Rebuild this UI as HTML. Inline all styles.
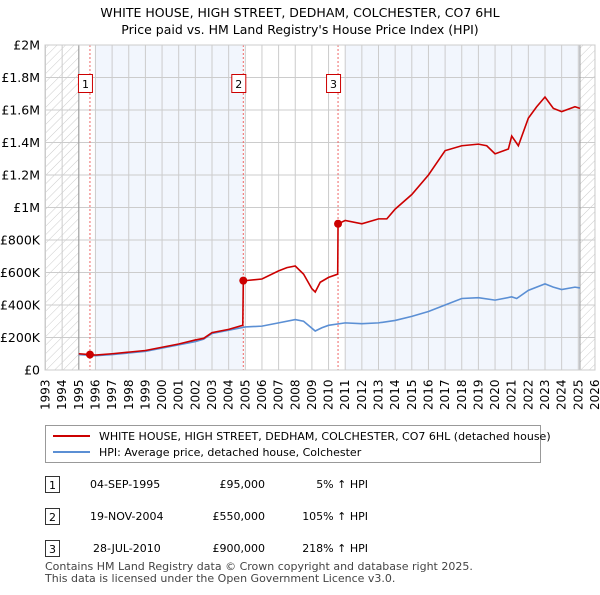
<!DOCTYPE html>
<html><head><meta charset="utf-8"><style>
body{margin:0;background:#fff;font-family:"Liberation Sans","DejaVu Sans",sans-serif;}
svg text{font-family:"DejaVu Sans","Liberation Sans",sans-serif;}
</style></head><body>
<svg id="c" width="600" height="590" xmlns="http://www.w3.org/2000/svg">
<defs><pattern id="hatch" width="6" height="6" patternUnits="userSpaceOnUse" patternTransform="rotate(45)"><line x1="0" y1="0" x2="0" y2="6" stroke="#ccc" stroke-width="1"/></pattern></defs>
<text x="300" y="17" text-anchor="middle" font-size="12.5">WHITE HOUSE, HIGH STREET, DEDHAM, COLCHESTER, CO7 6HL</text>
<text x="300" y="34" text-anchor="middle" font-size="12.5">Price paid vs. HM Land Registry's House Price Index (HPI)</text>
<g id="plot"></g>
<g>
<rect x="45.5" y="425.5" width="495" height="37" fill="#fff" stroke="#999"/>
<line x1="53" y1="436" x2="90" y2="436" stroke="#cc0000" stroke-width="2"/>
<text x="99" y="440" font-size="11">WHITE HOUSE, HIGH STREET, DEDHAM, COLCHESTER, CO7 6HL (detached house)</text>
<line x1="53" y1="452" x2="90" y2="452" stroke="#5b8fd4" stroke-width="2"/>
<text x="99" y="456" font-size="11">HPI: Average price, detached house, Colchester</text>
</g>
<g font-size="11">
<rect x="45.5" y="476.5" width="14" height="16" fill="#fff" stroke="#333"/><text x="52.5" y="489" text-anchor="middle">1</text>
<text x="90" y="488">04-SEP-1995</text><text x="265" y="488" text-anchor="end">£95,000</text><text x="368" y="488" text-anchor="end">5% ↑ HPI</text>
<rect x="45.5" y="508.5" width="14" height="16" fill="#fff" stroke="#333"/><text x="52.5" y="521" text-anchor="middle">2</text>
<text x="90" y="520">19-NOV-2004</text><text x="265" y="520" text-anchor="end">£550,000</text><text x="368" y="520" text-anchor="end">105% ↑ HPI</text>
<rect x="45.5" y="540.5" width="14" height="16" fill="#fff" stroke="#333"/><text x="52.5" y="553" text-anchor="middle">3</text>
<text x="93" y="552">28-JUL-2010</text><text x="265" y="552" text-anchor="end">£900,000</text><text x="368" y="552" text-anchor="end">218% ↑ HPI</text>
</g>
<text x="45" y="570" font-size="11" fill="#444">Contains HM Land Registry data © Crown copyright and database right 2025.</text>
<text x="45" y="582" font-size="11" fill="#444">This data is licensed under the Open Government Licence v3.0.</text>
</svg>
<script>
const yTicks=[0,200000,400000,600000,800000,1000000,1200000,1400000,1600000,1800000,2000000];
const yLabels=["£0","£200K","£400K","£600K","£800K","£1M","£1.2M","£1.4M","£1.6M","£1.8M","£2M"];
const years=[1993,1994,1995,1996,1997,1998,1999,2000,2001,2002,2003,2004,2005,2006,2007,2008,2009,2010,2011,2012,2013,2014,2015,2016,2017,2018,2019,2020,2021,2022,2023,2024,2025,2026];
const hpiT=[1995,1996,1997,1998,1999,2000,2001,2002,2002.5,2003,2004,2005,2006,2007,2008,2008.5,2009.2,2009.6,2010,2011,2012,2013,2014,2015,2016,2017,2018,2019,2020,2021,2021.3,2022,2023,2023.5,2024,2024.8,2025.1];
const hpiV=[95000,88000,95000,105000,115000,135000,155000,175000,190000,225000,245000,265000,270000,290000,310000,300000,240000,260000,275000,290000,285000,290000,305000,330000,360000,400000,440000,445000,430000,450000,440000,490000,530000,510000,495000,510000,505000];
const redT=[1995,1995.67,1996,1997,1998,1999,2000,2001,2002,2002.5,2003,2004,2004.85,2004.88,2005,2006,2007,2007.5,2008,2008.5,2009,2009.2,2009.5,2010,2010.55,2010.57,2011,2012,2013,2013.5,2014,2015,2016,2017,2018,2019,2019.5,2020,2020.8,2021,2021.4,2022,2022.5,2023,2023.5,2024,2024.8,2025.1];
const redV=[100000,95000,92000,100000,110000,120000,140000,160000,185000,195000,230000,250000,275000,550000,550000,560000,610000,630000,640000,590000,500000,480000,540000,570000,590000,900000,920000,900000,930000,930000,990000,1080000,1200000,1350000,1380000,1390000,1380000,1330000,1360000,1440000,1380000,1550000,1620000,1680000,1610000,1590000,1620000,1610000];
const saleT=[1995.67,2004.88,2010.57];
const saleV=[95000,550000,900000];
const saleLbl=["1","2","3"];
const X=t=>45.5+(t-1993)*16.65, Y=v=>370-v/2000000*325;
const NS="http://www.w3.org/2000/svg", g=document.getElementById('plot');
function mk(tag,a,p){const e=document.createElementNS(NS,tag);for(const k in a)e.setAttribute(k,a[k]);(p||g).appendChild(e);return e;}
let e;
e=mk('rect',{x:X(1996),y:45,width:X(saleT[1])-X(1996),height:325,fill:'#f2f6fd'});


e=mk('rect',{x:X(2011),y:45,width:X(2025.1)-X(2011),height:325,fill:'#f2f6fd'});


e=mk('rect',{x:45,y:45,width:X(1995)-45,height:325,fill:'url(#hatch)'});


e=mk('rect',{x:X(2025.1),y:45,width:595-X(2025.1),height:325,fill:'url(#hatch)'});


years.forEach(y=>{
 e=mk('line',{x1:X(y),x2:X(y),y1:45,y2:370,stroke:'#ccc','stroke-width':1});
 
 
 const tx=X(y)+4;
 e=mk('text',{x:0,y:0,transform:`translate(${tx},410) rotate(-90)`,'font-size':12});
 e.textContent=y;
 
 
});
yTicks.forEach((v,i)=>{
 e=mk('line',{x1:45,x2:595,y1:Y(v),y2:Y(v),stroke:'#ccc','stroke-width':1});
 
 
 e=mk('text',{x:40,y:Y(v)+4.5,'text-anchor':'end','font-size':12.5});
 e.textContent=yLabels[i];
 
 
});
[1995,2025.1].forEach(t=>{e=mk('line',{x1:X(t),x2:X(t),y1:45,y2:370,stroke:'#999','stroke-width':1});
 
 });
saleT.forEach((t,i)=>{
 e=mk('line',{x1:X(t),x2:X(t),y1:45,y2:370,stroke:'#e66','stroke-width':1,'stroke-dasharray':'2,2'});
 
 
});
e=mk('polyline',{points:hpiT.map((t,i)=>X(t)+','+Y(hpiV[i])).join(' '),fill:'none',stroke:'#5b8fd4','stroke-width':1.6});


e=mk('polyline',{points:redT.map((t,i)=>X(t)+','+Y(redV[i])).join(' '),fill:'none',stroke:'#cc0000','stroke-width':1.6});


saleT.forEach((t,i)=>{
 e=mk('circle',{cx:X(t),cy:Y(saleV[i]),r:4,fill:'#cc0000'});
 
 
 e=mk('rect',{x:X(t)-11.5,y:74.5,width:14,height:18,fill:'#fff',stroke:'#c00'});
 
 
 e=mk('text',{x:X(t)-4.5,y:88,'text-anchor':'middle','font-size':11});
 e.textContent=saleLbl[i];
 
 
});
e=mk('rect',{x:45,y:45,width:550,height:325,fill:'none',stroke:'#ccc'});


</script>
</body></html>
